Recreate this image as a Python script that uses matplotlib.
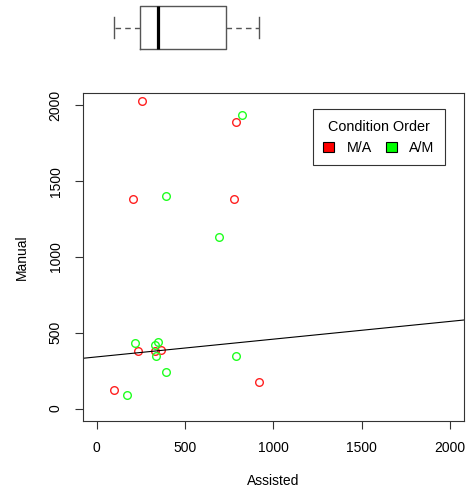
import matplotlib
matplotlib.use("Agg")
import matplotlib.pyplot as plt
from matplotlib.patches import Patch
import numpy as np

plt.rcParams['font.family'] = ['Liberation Sans', 'DejaVu Sans']
plt.rcParams['font.size'] = 10

# M/A order (red)
ma_assisted = [258, 786, 204, 779, 234, 328, 362, 96, 918]
ma_manual = [2029, 1890, 1381, 1381, 382, 378, 385, 125, 178]
# A/M order (green)
am_assisted = [822, 390, 690, 217, 328, 349, 336, 390, 786, 173]
am_manual = [1935, 1400, 1135, 431, 420, 440, 350, 244, 345, 88]

line_intercept = 341
line_slope = 0.117

ticks = [0, 500, 1000, 1500, 2000]
lims = (-80, 2080)

W, H = 466, 493
fig = plt.figure(figsize=(W / 100, H / 100), dpi=100)

left, right = 82.7, 464
top, bottom = 93.3, 420.7
ax = fig.add_axes([left / W, 1 - bottom / H, (right - left) / W, (bottom - top) / H])
axb = fig.add_axes([left / W, 1 - 55 / H, (right - left) / W, 55 / H])

# boxplot of assisted times on top
all_assisted = ma_assisted + am_assisted
grey = '#555555'
axb.boxplot(all_assisted, orientation='horizontal', positions=[0], widths=1.0,
            showfliers=False, capwidths=0.5,
            boxprops=dict(color=grey, lw=1.0),
            whiskerprops=dict(color=grey, lw=1.0, linestyle=(0, (4, 3))),
            capprops=dict(color=grey, lw=1.0),
            medianprops=dict(color='black', lw=2.3))
axb.set_xlim(lims)
axb.set_ylim(-0.64, 0.64)
axb.axis('off')

ax.plot(ma_assisted, ma_manual, 'o', mfc='none', mec='#ff2020', ms=5.5, mew=1.0)
ax.plot(am_assisted, am_manual, 'o', mfc='none', mec='#20ff20', ms=5.5, mew=1.0)
ax.axline((0, line_intercept), slope=line_slope, color='black', lw=0.8)

ax.set_xlim(lims)
ax.set_ylim(lims)
ax.set_xticks(ticks)
ax.set_yticks(ticks)
ax.set_yticklabels([str(t) for t in ticks], rotation=90, va='center')
ax.tick_params(length=5.5, width=0.8, color='#333333', pad=9, labelsize=10)
for s in ax.spines.values():
    s.set_color('#333333')
    s.set_linewidth(0.8)
ax.set_xlabel('Assisted', labelpad=14)
ax.set_ylabel('Manual', labelpad=14)

handles = [Patch(facecolor='#ff0000', edgecolor='black', lw=0.8, label='M/A'),
           Patch(facecolor='#00ff00', edgecolor='black', lw=0.8, label='A/M')]
leg = ax.legend(handles=handles, title='Condition Order', ncol=2,
                loc='upper right', bbox_to_anchor=(0.95, 0.951),
                borderaxespad=0,
                fancybox=False, edgecolor='#333333', framealpha=1,
                handlelength=0.75, handleheight=0.7, handletextpad=0.9,
                columnspacing=0.95, borderpad=0.72, fontsize=10.3,
                title_fontsize=10.4)
leg.get_frame().set_linewidth(0.8)

fig.savefig('out.png', dpi=100)
